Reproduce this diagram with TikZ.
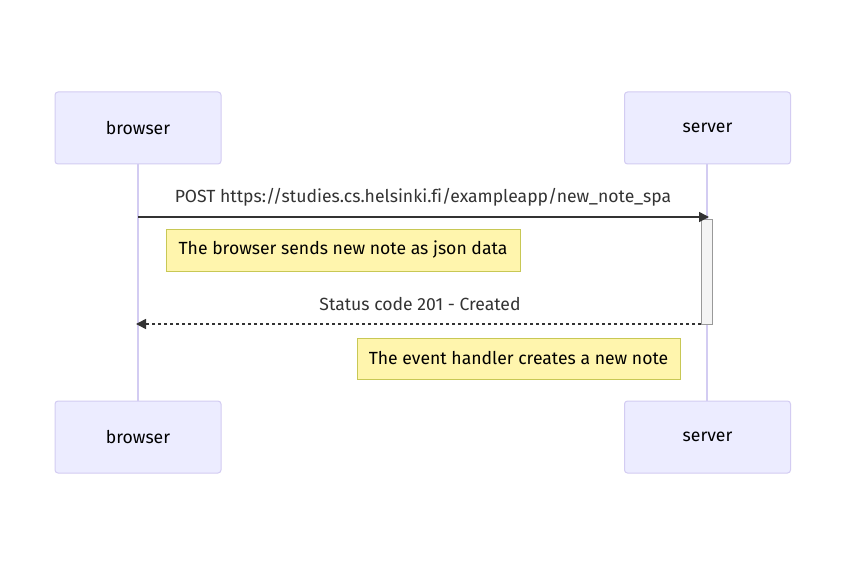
\documentclass[tikz,border=0pt]{standalone}
\usepackage{fontspec}
\setmainfont[Ligatures=CommonOff]{Fira Sans}
\usetikzlibrary{arrows.meta}
\definecolor{actfill}{HTML}{ECECFF}
\definecolor{actdraw}{HTML}{D3CCF2}
\definecolor{life}{HTML}{D3CCF2}
\definecolor{notefill}{HTML}{FFF5AD}
\definecolor{notedraw}{HTML}{C8C855}
\definecolor{msg}{HTML}{333333}
\definecolor{actvfill}{HTML}{F4F4F4}
\definecolor{actvdraw}{HTML}{999999}
\tikzset{
  x=1pt, y=-1pt,
  txt/.style={font=\fontsize{17.6}{20}\selectfont},
  actor/.style={txt, draw=actdraw, fill=actfill, rounded corners=3pt, line width=1pt,
    minimum width=166pt, minimum height=72pt, inner sep=0pt, text=black},
  note/.style={txt, draw=notedraw, fill=notefill, line width=1pt, inner sep=0pt, text=black},
  lifeline/.style={draw=life, line width=1.5pt},
  msgline/.style={draw=msg, line width=1.5pt, -{Triangle[length=10pt,width=10pt]}},
  msglabel/.style={txt, text=msg, inner sep=0pt},
}
\begin{document}
\begin{tikzpicture}
\useasboundingbox[fill=white] (0,0) rectangle (846,567);
% lifelines
\coordinate (bt) at (138,164);
\coordinate (bb) at (138,401);
\coordinate (st) at (707,164);
\coordinate (sb) at (707,401);
\draw[lifeline] (bt) -- (bb);
\draw[lifeline] (st) -- (sb);
% actors
\node[actor] (b1) at (138,128) {browser};
\node[actor] (s1) at (707.5,128) {server};
\node[actor] (b2) at (138,437) {browser};
\node[actor] (s2) at (707.5,437) {server};
% activation
\node[draw=actvdraw, fill=actvfill, line width=1pt, minimum width=11pt, minimum height=105pt, inner sep=0pt] (act) at (707,271.5) {};
% messages
\coordinate (m1s) at (138,217);
\coordinate (m1e) at (709,217);
\draw[msgline] (m1s) -- (m1e);
\node[msglabel] (l1) at (423,197) {POST https://studies.cs.helsinki.fi/exampleapp/new\_note\_spa};
\coordinate (m2s) at (701,324);
\coordinate (m2e) at (136,324);
\draw[msgline, dashed, dash pattern=on 3pt off 3pt] (m2s) -- (m2e);
\node[msglabel] (l2) at (420,304) {Status code 201 - Created};
% notes
\node[note, minimum width=354pt, minimum height=42pt] (n1) at (343,250) {The browser sends new note as json data};
\node[note, minimum width=323pt, minimum height=41pt] (n2) at (518.5,358.5) {The event handler creates a new note};
\end{tikzpicture}
\end{document}
